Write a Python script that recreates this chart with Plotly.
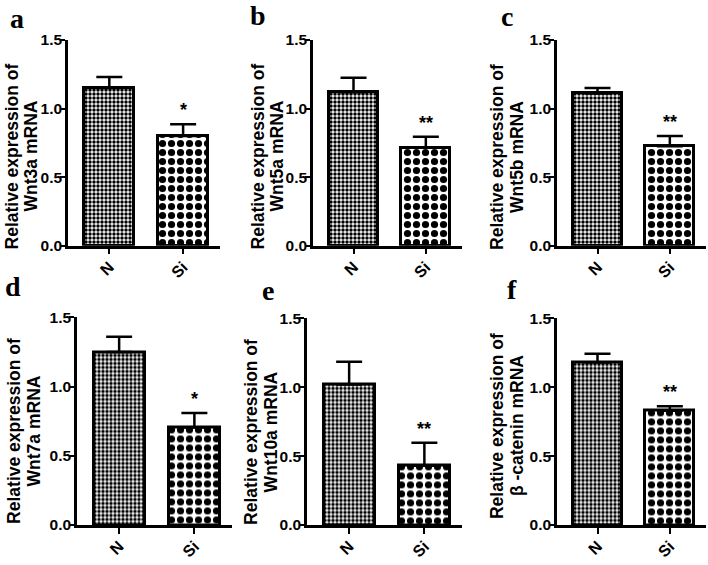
import plotly.graph_objects as go

categories = ["N", "Si"]
panel_letters = ["a", "b", "c", "d", "e", "f"]
genes = ["Wnt3a", "Wnt5a", "Wnt5b", "Wnt7a", "Wnt10a", "β -catenin"]
mean_N = [1.15, 1.12, 1.11, 1.25, 1.02, 1.18]
err_N = [0.08, 0.105, 0.04, 0.11, 0.165, 0.063]
mean_Si = [0.80, 0.715, 0.725, 0.705, 0.43, 0.83]
err_Si = [0.085, 0.08, 0.075, 0.105, 0.168, 0.032]
significance = ["*", "**", "**", "*", "**", "**"]
y_ticks = [0.0, 0.5, 1.0, 1.5]

W, H = 708, 565
# pixel layout of each panel: (x_left, x_right, y_top, y_bottom)
boxes = [(68, 220, 32, 244), (313, 462, 32, 244), (557, 706, 32, 244),
         (77, 232, 318, 532), (307, 462, 319, 532), (557, 706, 319, 532)]
letter_pos = [(17, 10), (258, 7), (507, 8), (13, 286), (268, 290), (512, 289)]
# y-title line centres: (x line1, x line2, y centre)
title_pos = [(12, 31, 152), (258, 277, 152), (497.5, 517.5, 153),
             (14, 33.5, 435), (251, 270.5, 436), (497, 517, 430)]

FONT = "Arial, Liberation Sans, sans-serif"
SERIF = "Times New Roman, Liberation Serif, serif"

fig = go.Figure()
layout = {}
annotations = []
for i in range(6):
    n = "" if i == 0 else str(i + 1)
    xa, ya = "x" + n, "y" + n
    xl, xr, yt, yb = boxes[i]
    for cat, val, err, size, sol in [(categories[0], mean_N[i], err_N[i], 4, 0.6),
                                     (categories[1], mean_Si[i], err_Si[i], 9, 0.5)]:
        fig.add_trace(go.Bar(
            x=[cat], y=[val], xaxis=xa, yaxis=ya, width=0.68,
            marker=dict(color="white", line=dict(color="black", width=3),
                        pattern=dict(shape=".", size=size, solidity=sol,
                                     fgcolor="black", bgcolor="white", fgopacity=1)),
            error_y=dict(type="data", array=[err], arrayminus=[0], symmetric=False,
                         color="black", thickness=2.5, width=13),
            showlegend=False, hoverinfo="skip"))
    layout["xaxis" + n] = dict(
        domain=[xl / W, xr / W], anchor=ya, type="category",
        categoryorder="array", categoryarray=categories,
        tickvals=categories, ticktext=[f"<b>{c}</b>" for c in categories],
        range=[-0.56, 1.5], showline=True, linecolor="black", linewidth=2.5,
        ticks="outside", ticklen=6, tickwidth=2, tickcolor="black",
        ticklabelstandoff=-3,
        tickangle=-45, showgrid=False, zeroline=False,
        tickfont=dict(family=FONT, size=16, color="black"))
    layout["yaxis" + n] = dict(
        domain=[1 - yb / H, 1 - yt / H], anchor=xa, range=[0, 1.5],
        tickvals=y_ticks, ticktext=[f"<b>{v:.1f}</b>" for v in y_ticks],
        showline=True, linecolor="black", linewidth=2.5,
        ticks="outside", ticklen=5, tickwidth=2, tickcolor="black",
        ticklabelstandoff=-5,
        showgrid=False, zeroline=False,
        tickfont=dict(family=FONT, size=15.5, color="black"))
    tx1, tx2, tyc = title_pos[i]
    for tx, line in [(tx1, "Relative expression of"), (tx2, f"{genes[i]} mRNA")]:
        annotations.append(dict(
            x=tx / W, y=1 - tyc / H, xref="paper", yref="paper", text=f"<b>{line}</b>",
            textangle=-90, showarrow=False, xanchor="center", yanchor="middle",
            font=dict(family=FONT, size=17.5, color="black")))
    annotations.append(dict(
        x=categories[1], y=mean_Si[i] + err_Si[i], xref=xa, yref=ya,
        text=f"<b>{significance[i]}</b>", showarrow=False, yanchor="bottom", yshift=2,
        font=dict(family=FONT, size=18, color="black")))
    lx, ly = letter_pos[i]
    annotations.append(dict(
        x=lx / W, y=1 - ly / H, xref="paper", yref="paper",
        text=f"<b>{panel_letters[i]}</b>",
        showarrow=False, xanchor="center", yanchor="middle",
        font=dict(family=SERIF, size=28, color="black")))

fig.update_layout(
    width=W, height=H, margin=dict(l=0, r=0, t=0, b=0),
    plot_bgcolor="white", paper_bgcolor="white", bargap=0,
    annotations=annotations, **layout)
fig.write_html("out.html", config={"displayModeBar": False},
               post_script="document.body.style.margin='0';document.body.style.overflow='hidden';")
